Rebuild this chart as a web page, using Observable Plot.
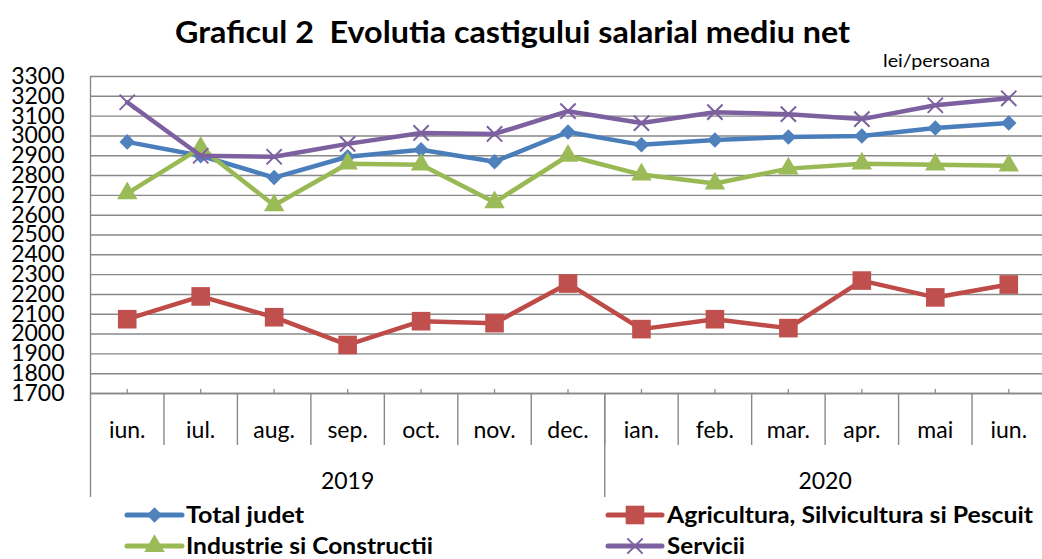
<!DOCTYPE html>
<html>
<head>
<meta charset="utf-8">
<script src="https://cdn.jsdelivr.net/npm/d3@7"></script>
<script src="https://cdn.jsdelivr.net/npm/@observablehq/plot@0.6"></script>
<style>
  html, body { margin: 0; padding: 0; background: #fff; }
  #wrap { position: relative; width: 1042px; height: 559px; overflow: hidden; background: #fff; }
  #chart { position: absolute; left: 0; top: 56px; }
  #head { position: absolute; left: 0; top: 0; }
  #legend { position: absolute; left: 0; top: 495px; }
  svg text { font-family: Lato, "Open Sans", sans-serif; }
</style>
</head>
<body>
<div id="wrap">
  <div id="chart"></div>
  <svg id="head" width="1042" height="74"></svg>
  <svg id="legend" width="1042" height="64"></svg>
</div>
<script>
// ---------- data ----------
const titleText = "Graficul 2  Evolutia castigului salarial mediu net";
const unitText = "lei/persoana";
const months = ["iun.", "iul.", "aug.", "sep.", "oct.", "nov.", "dec.", "ian.", "feb.", "mar.", "apr.", "mai", "iun."];
const years = ["2019", "2020"];
const monthsPerYear = [7, 6];
const yTicks = [1700, 1800, 1900, 2000, 2100, 2200, 2300, 2400, 2500, 2600, 2700, 2800, 2900, 3000, 3100, 3200, 3300];
const seriesNames = ["Total judet", "Agricultura, Silvicultura si Pescuit", "Industrie si Constructii", "Servicii"];
const totalJudet  = [2970, 2900, 2790, 2895, 2930, 2870, 3020, 2955, 2980, 2995, 3000, 3040, 3065];
const agricultura = [2075, 2190, 2085, 1945, 2065, 2055, 2255, 2025, 2075, 2030, 2270, 2185, 2250];
const industrie   = [2710, 2940, 2650, 2860, 2855, 2665, 2900, 2805, 2760, 2835, 2860, 2855, 2850];
const servicii    = [3170, 2900, 2895, 2960, 3015, 3010, 3125, 3065, 3120, 3110, 3085, 3155, 3190];

// ---------- styles ----------
const seriesValues = [totalJudet, agricultura, industrie, servicii];
const styles = [
  {line: "#4A7EBB", symbol: "diamond2", r: 7, fill: "#4F81BD", stroke: "none", sw: 0},
  {line: "#BE4B48", symbol: "square", r: 10.5, fill: "#C0504D", stroke: "none", sw: 0},
  {line: "#98B954", symbol: "triangle", r: 7.6, fill: "#9BBB59", stroke: "none", sw: 0},
  {line: "#7D60A0", symbol: "times", r: 7, fill: "none", stroke: "#7D60A0", sw: 2}
];
const gridColor = "#888888";

const rows = seriesNames.flatMap((name, s) =>
  seriesValues[s].map((v, i) => ({series: name, idx: i + 0.5, value: v})));

const W = 1042, H = 450, mT = 20, mB = 113, mL = 90;
const plotH = H - mT - mB;
const yearStarts = d3.cumsum([0, ...monthsPerYear]).slice(0, years.length);

const seriesMarks = seriesNames.flatMap((name, s) => {
  const d = rows.filter(r => r.series === name);
  const st = styles[s];
  return [
    Plot.line(d, {x: "idx", y: "value", stroke: st.line, strokeWidth: 4.5, strokeLinejoin: "round"}),
    Plot.dot(d, {x: "idx", y: "value", symbol: st.symbol, r: st.r, fill: st.fill, stroke: st.stroke, strokeWidth: st.sw})
  ];
});

const chart = Plot.plot({
  width: W,
  height: H,
  marginTop: mT,
  marginBottom: mB,
  marginLeft: mL,
  marginRight: 0,
  style: {fontFamily: "Lato, 'Open Sans', sans-serif", fontSize: "23px", color: "#000", background: "#fff"},
  x: {domain: [0, months.length], range: [mL, 1045], axis: null},
  y: {domain: [yTicks[0], yTicks[yTicks.length - 1]], axis: null},
  marks: [
    Plot.gridY(yTicks, {stroke: gridColor, strokeOpacity: 1, strokeWidth: 1.4}),
    Plot.axisY(yTicks, {tickSize: 0, tickPadding: 26, fontSize: 23, label: null, fill: "#000", tickFormat: d => String(d)}),
    // left axis line extended into the category header
    Plot.ruleX([0], {stroke: gridColor, strokeWidth: 1.4, insetBottom: -104}),
    // bottom axis line
    Plot.ruleY([yTicks[0]], {stroke: gridColor, strokeWidth: 1.6}),
    // small tick marks at category centres
    Plot.ruleX(months, {x: (d, i) => i + 0.5, stroke: gridColor, strokeWidth: 1.2, insetTop: plotH - 4}),
    // month separators
    Plot.ruleX(months.slice(1), {x: (d, i) => i + 1, stroke: gridColor, strokeWidth: 1.4, insetTop: plotH, insetBottom: -52}),
    // year separators
    Plot.ruleX(years.slice(1), {x: (d, i) => yearStarts[i + 1], stroke: gridColor, strokeWidth: 1.4, insetTop: plotH, insetBottom: -104}),
    Plot.text(months, {x: (d, i) => i + 0.5, text: d => d, frameAnchor: "bottom", dy: 44, fontSize: 23, fill: "#000"}),
    Plot.text(years, {x: (d, i) => yearStarts[i] + monthsPerYear[i] / 2, text: d => d, frameAnchor: "bottom", dy: 95, fontSize: 23, fill: "#000"}),
    ...seriesMarks
  ]
});
document.getElementById("chart").append(chart);

// ---------- title ----------
const head = d3.select("#head");
head.append("text").attr("x", 175).attr("y", 42.7)
  .attr("font-size", 30).attr("font-weight", "bold").attr("fill", "#000")
  .attr("style", "white-space: pre")
  .attr("textLength", 675).attr("lengthAdjust", "spacingAndGlyphs")
  .text(titleText);
head.append("text").attr("x", 883).attr("y", 66.5)
  .attr("font-size", 18).attr("fill", "#000")
  .attr("textLength", 107).attr("lengthAdjust", "spacingAndGlyphs")
  .text(unitText);

// ---------- legend ----------
const legend = d3.select("#legend");
const legendPos = [
  {x0: 127, x1: 182, tx: 186, y: 20, base: 27.5, len: 118},
  {x0: 608, x1: 662, tx: 667, y: 20, base: 27.5, len: 366},
  {x0: 127, x1: 182, tx: 186, y: 51, base: 58.5, len: 247},
  {x0: 608, x1: 662, tx: 667, y: 51, base: 58.5, len: 78}
];
const symbolTypes = {diamond2: d3.symbolDiamond2, square: d3.symbolSquare, triangle: d3.symbolTriangle, times: d3.symbolTimes};
seriesNames.forEach((name, s) => {
  const p = legendPos[s], st = styles[s];
  const g = legend.append("g");
  g.append("line").attr("x1", p.x0).attr("x2", p.x1).attr("y1", p.y).attr("y2", p.y)
    .attr("stroke", st.line).attr("stroke-width", 5).attr("stroke-linecap", "round");
  g.append("path")
    .attr("transform", `translate(${(p.x0 + p.x1) / 2},${p.y})`)
    .attr("d", d3.symbol(symbolTypes[st.symbol], Math.PI * st.r * st.r)())
    .attr("fill", st.fill).attr("stroke", st.stroke).attr("stroke-width", st.sw);
  g.append("text").attr("x", p.tx).attr("y", p.base)
    .attr("font-size", 22).attr("font-weight", "bold").attr("fill", "#000")
    .attr("textLength", p.len).attr("lengthAdjust", "spacingAndGlyphs")
    .text(name);
});
</script>
</body>
</html>
